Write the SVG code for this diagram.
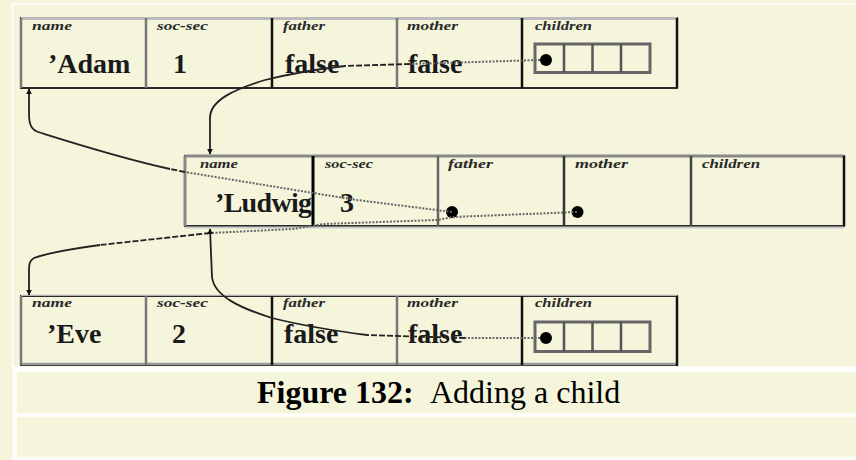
<svg xmlns="http://www.w3.org/2000/svg" width="856" height="460" viewBox="0 0 856 460">
<defs>
<style>
.val{font-family:"Liberation Serif",serif;font-weight:bold;font-size:28px;fill:#1a1a1a}
.lbl{font-family:"Liberation Serif",serif;font-style:italic;font-weight:bold;font-size:12px;fill:#2a2a2a}
.box{fill:none;stroke:#2a2a2a;stroke-width:2}
.dk{stroke:#111;stroke-width:2.5}
.gr{stroke:#777;stroke-width:2.5}
.vec{fill:none;stroke:#666;stroke-width:3}
.vd{stroke:#555;stroke-width:2.5}
.dot{fill:#000}
.dotted{fill:none;stroke:#666;stroke-width:2;stroke-dasharray:2 1.5}
.solid{fill:none;stroke:#222;stroke-width:1.8}
.dash{fill:none;stroke:#222;stroke-width:1.8;stroke-dasharray:6 2}
.cap{font-family:"Liberation Serif",serif;font-size:32px;fill:#000}
</style>
<marker id="ah" viewBox="0 0 10 10" refX="9" refY="5" markerWidth="6" markerHeight="6" orient="auto" markerUnits="userSpaceOnUse">
<path d="M0,0 L10,5 L0,10 z" fill="#111"/>
</marker>
</defs>
<rect width="856" height="460" fill="#f5f5dc"/>
<rect x="12" y="3.3" width="844" height="1.4" fill="#fff"/>
<rect x="11.7" y="3.3" width="1.6" height="364" fill="#fff"/>
<rect x="12.7" y="366.7" width="843.3" height="5" fill="#fff"/>
<rect x="12.7" y="366.7" width="4" height="93.3" fill="#fff"/>
<rect x="12.7" y="413.3" width="843.3" height="3.4" fill="#fff"/>
<rect x="12.7" y="457.3" width="843.3" height="2.7" fill="#fff"/>

<g id="adam">
<rect class="box" x="21" y="18" width="656" height="70"/>
<line x1="21" y1="18.5" x2="677" y2="18.5" stroke="#bbb" stroke-width="3"/>
<line x1="21" y1="18" x2="21" y2="88" class="gr"/>
<line x1="146" y1="18" x2="146" y2="88" class="gr"/>
<line x1="272" y1="18" x2="272" y2="88" class="dk"/>
<line x1="397" y1="18" x2="397" y2="88" class="gr"/>
<line x1="522" y1="18" x2="522" y2="88" class="dk"/>
<line x1="677" y1="18" x2="677" y2="88" class="dk"/>
<text class="lbl" x="32" y="30" textLength="40" lengthAdjust="spacingAndGlyphs">name</text>
<text class="lbl" x="157" y="30" textLength="51" lengthAdjust="spacingAndGlyphs">soc-sec</text>
<text class="lbl" x="283" y="30" textLength="42" lengthAdjust="spacingAndGlyphs">father</text>
<text class="lbl" x="407" y="30" textLength="51" lengthAdjust="spacingAndGlyphs">mother</text>
<text class="lbl" x="535" y="30" textLength="57" lengthAdjust="spacingAndGlyphs">children</text>
<text class="val" x="48" y="73">’Adam</text>
<text class="val" x="173" y="73">1</text>
<text class="val" x="285" y="73">false</text>
<text class="val" x="408" y="73">false</text>
<rect class="vec" x="535" y="44" width="115" height="28.5"/>
<line class="vd" x1="564" y1="44" x2="564" y2="72.5"/>
<line class="vd" x1="592.5" y1="44" x2="592.5" y2="72.5"/>
<line class="vd" x1="621" y1="44" x2="621" y2="72.5"/>
<circle class="dot" cx="546" cy="60" r="6"/>
</g>

<g id="ludwig">
<rect class="box" x="185" y="156" width="659" height="70"/>
<line x1="185" y1="156" x2="844" y2="156" stroke="#888" stroke-width="3"/>
<line x1="185" y1="227.5" x2="844" y2="227.5" stroke="#ccc" stroke-width="2"/>
<line x1="185" y1="156" x2="185" y2="226" stroke="#888" stroke-width="3"/>
<line x1="313" y1="156" x2="313" y2="226" stroke="#000" stroke-width="3"/>
<line x1="438" y1="156" x2="438" y2="226" stroke="#666" stroke-width="2.5"/>
<line x1="564" y1="156" x2="564" y2="226" stroke="#333" stroke-width="2.5"/>
<line x1="691" y1="156" x2="691" y2="226" stroke="#444" stroke-width="2.5"/>
<line x1="844" y1="156" x2="844" y2="226" stroke="#111" stroke-width="2.5"/>
<text class="lbl" x="200" y="168" textLength="38" lengthAdjust="spacingAndGlyphs">name</text>
<text class="lbl" x="325" y="168" textLength="48" lengthAdjust="spacingAndGlyphs">soc-sec</text>
<text class="lbl" x="448" y="168" textLength="45" lengthAdjust="spacingAndGlyphs">father</text>
<text class="lbl" x="575" y="168" textLength="53" lengthAdjust="spacingAndGlyphs">mother</text>
<text class="lbl" x="702" y="168" textLength="58" lengthAdjust="spacingAndGlyphs">children</text>
<text class="val" x="215" y="212" textLength="97">’Ludwig</text>
<text class="val" x="340" y="212">3</text>
<circle class="dot" cx="452" cy="212" r="6"/>
<circle class="dot" cx="577.5" cy="212" r="6"/>
</g>

<g id="eve">
<rect class="box" x="21" y="296" width="656" height="69"/>
<line x1="21" y1="295" x2="677" y2="295" stroke="#ddd" stroke-width="1.5"/>
<line x1="21" y1="364" x2="677" y2="364" stroke="#999" stroke-width="2.5"/>
<line x1="21" y1="296" x2="21" y2="365" class="gr"/>
<line x1="146" y1="296" x2="146" y2="365" class="gr"/>
<line x1="272" y1="296" x2="272" y2="365" class="dk"/>
<line x1="397" y1="296" x2="397" y2="365" class="gr"/>
<line x1="522" y1="296" x2="522" y2="365" class="dk"/>
<line x1="677" y1="296" x2="677" y2="366" class="dk"/>
<text class="lbl" x="32" y="307" textLength="40" lengthAdjust="spacingAndGlyphs">name</text>
<text class="lbl" x="157" y="307" textLength="51" lengthAdjust="spacingAndGlyphs">soc-sec</text>
<text class="lbl" x="283" y="307" textLength="42" lengthAdjust="spacingAndGlyphs">father</text>
<text class="lbl" x="407" y="307" textLength="51" lengthAdjust="spacingAndGlyphs">mother</text>
<text class="lbl" x="535" y="307" textLength="57" lengthAdjust="spacingAndGlyphs">children</text>
<text class="val" x="47" y="343">’Eve</text>
<text class="val" x="172" y="343">2</text>
<text class="val" x="284" y="343">false</text>
<text class="val" x="408" y="343">false</text>
<rect class="vec" x="535" y="322" width="115" height="29.5"/>
<line class="vd" x1="564" y1="322" x2="564" y2="351.5"/>
<line class="vd" x1="592.5" y1="322" x2="592.5" y2="351.5"/>
<line class="vd" x1="621" y1="322" x2="621" y2="351.5"/>
<circle class="dot" cx="546" cy="338" r="6"/>
</g>

<g id="connectors">
<path class="dotted" d="M540,60 L410,64"/>
<path class="dash" d="M410,64 L345,66"/>
<path class="solid" d="M345,66 C 310,70 285,75 265,80 C 235,89 210,100 210,118 L210,154" marker-end="url(#ah)"/>
<path class="dotted" d="M452,212 L357,200 L313,193 L185,172"/>
<path class="dash" d="M185,172 L170,169"/>
<path class="solid" d="M170,169 C 120,158 70,142 38,132 C 30,129 29,122 29,113 L29,89" marker-end="url(#ah)"/>
<path class="dotted" d="M577,212 L453,217 L437,220 L323,224 L293,229 L210,233"/>
<path class="dash" d="M210,233 L100,245"/>
<path class="solid" d="M100,245 C 70,249 45,254 34,258 C 29,261 29,265 29,272 L29,295" marker-end="url(#ah)"/>
<path class="dotted" d="M540,338 L465,338"/>
<path class="dash" d="M465,338 L367,335"/>
<path class="solid" d="M367,335 C 320,329 292,323 272,318 C 240,308 214,296 212,277 L210,229" marker-end="url(#ah)"/>
</g>

<text class="cap" x="257" y="403"><tspan font-weight="bold">Figure 132:</tspan><tspan x="430">Adding a child</tspan></text>
</svg>
